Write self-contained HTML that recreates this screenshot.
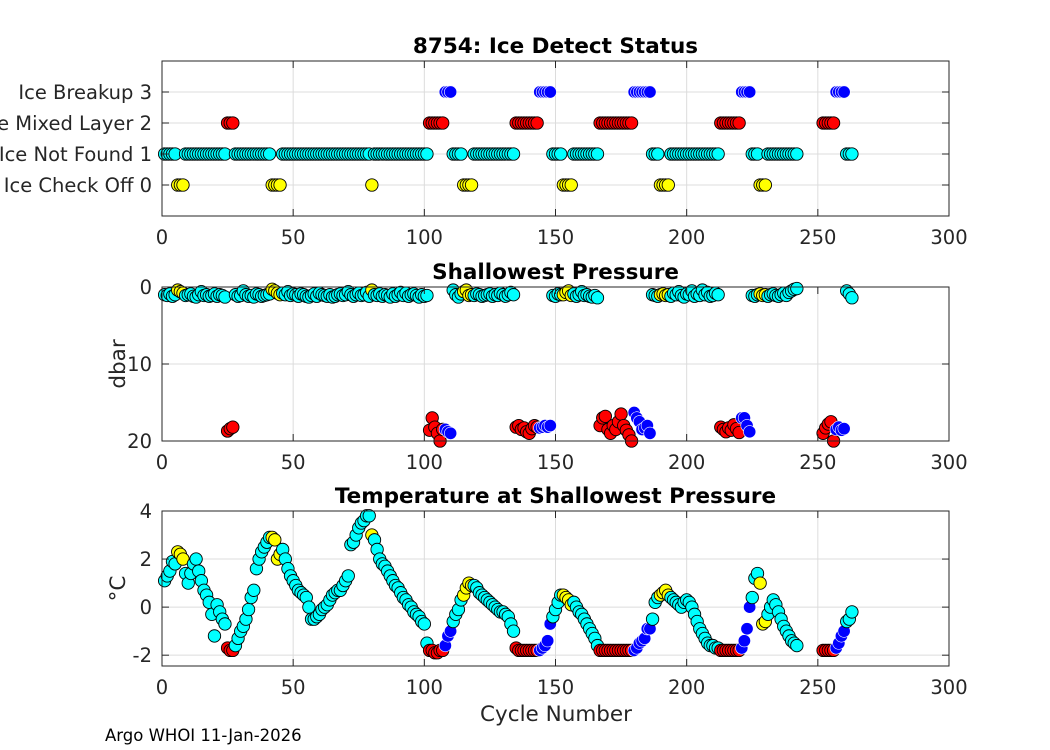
<!DOCTYPE html>
<html><head><meta charset="utf-8"><style>
body{margin:0;background:#fff;}
svg{display:block;font-family:"DejaVu Sans","Liberation Sans",sans-serif;}
</style></head><body>
<svg id="chart" width="1050" height="750" viewBox="0 0 1050 750" xmlns="http://www.w3.org/2000/svg">
<rect width="1050" height="750" fill="#fff"/>
<g id="layer"></g>
<text x="105" y="741" font-size="16.5" fill="#000">Argo WHOI 11-Jan-2026</text>
</svg>
<script>
// per-cycle data, index = cycle-1 (null = no data)
const statusVals=[
1,1,1,1,1, 0,0,0, 1,1,1,1,1,1,1,1,1,1,1,1,1,1,1,1, 2,2,2,
1,1,1,1,1,1,1,1,1,1,1,1,1,1, 0,0,0,0,
1,1,1,1,1,1,1,1,1,1,1,1,1,1,1,1,1,1,1,1,1,1,1,1,1,1,1,1,1,1,1,1,1,1, 0,
1,1,1,1,1,1,1,1,1,1,1,1,1,1,1,1,1,1,1,1,1, 2,2,2,2,2,2, 3,3,3, 1,1,1,1, 0,0,0,0,
1,1,1,1,1,1,1,1,1,1,1,1,1,1,1,1, 2,2,2,2,2,2,2,2,2, 3,3,3,3,3, 1,1,1,1, 0,0,0,0,
1,1,1,1,1,1,1,1,1,1, 2,2,2,2,2,2,2,2,2,2,2,2,2, 3,3,3,3,3,3,3, 1,1,1, 0,0,0,0,
1,1,1,1,1,1,1,1,1,1,1,1,1,1,1,1,1,1,1, 2,2,2,2,2,2,2,2, 3,3,3,3, 1,1,1, 0,0,0,
1,1,1,1,1,1,1,1,1,1,1,1, null,null,null,null,null,null,null,null,null,
2,2,2,2,2, 3,3,3,3, 1,1,1];
const tempVals=[
1.1,1.3,1.5,1.9,1.8, 2.3,2.2,2.0, 1.4,1.0,1.4,1.8,2.0,1.5,1.1,0.7,0.5,0.2,-0.3,-1.2,0.1,-0.2,-0.5,-0.7, -1.7,-1.8,-1.8,
-1.6,-1.3,-1.0,-0.8,-0.5,-0.1,0.4,0.7,1.6,2.0,2.3,2.5,2.7,2.9, 2.9,2.8,2.0,2.2,
2.4,2.0,1.6,1.3,1.1,0.9,0.7,0.6,0.5,0.4,0.0,-0.5,-0.5,-0.4,-0.3,-0.1,0.0,0.1,0.3,0.5,0.6,0.7,0.7,0.9,1.1,1.3,2.6,2.7,3.0,3.3,3.5,3.6,3.8,3.8, 3.0,
2.8,2.4,2.0,1.8,1.7,1.5,1.3,1.1,0.9,0.8,0.6,0.4,0.3,0.1,0.0,-0.2,-0.3,-0.4,-0.6,-0.7,-1.5, -1.8,-1.8,-1.9,-1.9,-1.8,-1.8, -1.6,-1.2,-1.0, -0.6,-0.3,-0.1,0.3, 0.5,0.8,1.0,0.9,
0.9,0.8,0.6,0.5,0.4,0.3,0.2,0.1,0.0,-0.1,-0.2,-0.2,-0.3,-0.4,-0.7,-1.0, -1.7,-1.8,-1.8,-1.8,-1.8,-1.8,-1.8,-1.8,-1.8, -1.8,-1.7,-1.6,-1.4,-0.7, -0.4,-0.1,0.2,0.5, 0.5,0.4,0.3,0.1,
0.2,0.0,-0.2,-0.3,-0.5,-0.7,-0.9,-1.1,-1.3,-1.6, -1.8,-1.8,-1.8,-1.8,-1.8,-1.8,-1.8,-1.8,-1.8,-1.8,-1.8,-1.8,-1.8, -1.8,-1.7,-1.5,-1.4,-1.3,-0.9,-0.9, -0.5,0.2,0.4, 0.5,0.6,0.7,0.5,
0.4,0.3,0.2,0.1,0.0,0.2,0.3,0.2,0.0,-0.3,-0.6,-0.9,-1.1,-1.3,-1.5,-1.6,-1.6,-1.7,-1.7, -1.8,-1.8,-1.8,-1.8,-1.8,-1.8,-1.8,-1.8, -1.7,-1.4,-0.9,0.0, 0.4,1.2,1.4, 1.0,-0.7,-0.6,
-0.3,0.0,0.3,0.1,-0.2,-0.5,-0.8,-1.0,-1.2,-1.4,-1.5,-1.6, null,null,null,null,null,null,null,null,null,
-1.8,-1.8,-1.8,-1.8,-1.8, -1.7,-1.5,-1.2,-1.0, -0.6,-0.5,-0.2];
const presVals=[
1.0,1.1,0.9,1.2,1.0, 0.4,0.6,0.8, 1.1,1.0,0.9,1.2,1.3,1.0,0.6,1.1,1.0,1.2,1.1,0.9,1.2,1.0,1.1,1.3, 18.7,18.4,18.2,
1.0,1.2,1.1,0.5,1.0,1.2,1.1,1.3,0.9,1.0,1.2,1.1,1.0,0.9, 0.3,0.5,0.8,1.0,
0.8,1.0,0.6,1.1,0.9,1.0,1.2,0.9,1.0,1.2,1.3,1.1,0.9,1.2,0.8,1.0,1.1,1.2,1.0,1.3,1.2,1.0,0.9,1.1,1.0,0.6,1.0,1.2,1.0,0.8,1.1,1.0,0.7,1.2, 0.4,
1.0,1.1,0.9,1.2,1.0,1.1,1.3,0.9,1.2,1.0,0.7,1.1,0.8,1.2,1.0,0.9,1.1,1.3,1.0,1.2,1.1, 18.6,17.0,18.2,19.0,20.0,18.5, 18.5,18.8,19.0, 0.4,1.0,1.3,0.9, 0.6,0.4,1.1,1.0,
1.1,0.9,1.0,1.2,1.1,1.0,0.9,1.2,1.0,1.1,0.8,1.0,1.2,1.0,0.7,1.0, 18.2,18.0,18.5,18.3,18.8,19.0,18.4,18.0,18.2, 18.3,18.2,18.0,18.2,18.0,
1.1,1.2,0.9,1.0, 1.0,0.7,0.5,1.1,
0.9,1.2,1.0,0.6,1.1,1.0,1.2,1.3,1.1,1.4, 18.0,17.0,16.8,18.5,19.0,18.0,18.5,17.5,16.5,18.0,18.6,19.2,20.0, 16.3,17.0,17.5,18.5,18.3,18.0,19.0,
1.0,1.1,1.2, 1.0,0.9,1.1,1.0,
1.2,0.8,1.0,0.6,1.1,1.3,0.9,1.0,0.5,1.2,0.9,1.1,0.4,1.0,0.7,1.2,1.1,0.8,1.0, 18.2,18.5,18.8,18.3,18.6,17.9,18.4,18.9, 17.0,17.0,18.0,18.8,
1.1,1.2,1.0, 0.9,1.1,1.0,
1.2,1.0,0.9,1.1,1.2,1.0,0.8,1.1,0.7,0.5,0.3,0.2, null,null,null,null,null,null,null,null,null,
19.0,18.3,17.8,17.5,20.0, 18.5,18.2,18.6,18.4, 0.5,0.9,1.4];
const xTicks=[0,50,100,150,200,250,300];
const p1Ticks=[0,1,2,3];
const p1Labels=["Ice Check Off 0","Ice Not Found 1","Ice Mixed Layer 2","Ice Breakup 3"];
const p2Ticks=[0,10,20];
const p3Ticks=[-2,0,2,4];
const colors={0:"#ffff00",1:"#00ffff",2:"#ff0000",3:"#0000ff"};

const NS="http://www.w3.org/2000/svg";
const layer=document.getElementById('layer');
function mk(tag,attrs,parent){const e=document.createElementNS(NS,tag);for(const k in attrs)e.setAttribute(k,attrs[k]);(parent||layer).appendChild(e);return e;}
const X0=162,X1=949;
function xs(v){return X0+(v-0)/(300-0)*(X1-X0);}
const panels=[
 {name:'ice-status',top:61,bot:216,min:-1,max:4,rev:false,title:'8754: Ice Detect Status',ticks:p1Ticks,labels:p1Labels,val:(i)=>statusVals[i]},
 {name:'shallowest-pressure',top:287,bot:441,min:0,max:20,rev:true,title:'Shallowest Pressure',ticks:p2Ticks,labels:p2Ticks.map(String),val:(i)=>presVals[i],ylab:'dbar'},
 {name:'temperature',top:511,bot:666,min:-2.45,max:4,rev:false,title:'Temperature at Shallowest Pressure',ticks:p3Ticks,labels:p3Ticks.map(String),val:(i)=>tempVals[i],ylab:'°C'}
];
panels.forEach((p,pi)=>{
 const ys=v=>p.rev? p.top+(v-p.min)/(p.max-p.min)*(p.bot-p.top) : p.bot-(v-p.min)/(p.max-p.min)*(p.bot-p.top);
 const g=mk('g',{});
 
 
 xTicks.forEach(t=>{const l=mk('line',{x1:xs(t),x2:xs(t),y1:p.top,y2:p.bot,stroke:'#dcdcdc','stroke-width':1},g);
  });
 p.ticks.forEach(t=>{const l=mk('line',{x1:X0,x2:X1,y1:ys(t),y2:ys(t),stroke:'#dcdcdc','stroke-width':1},g);
  });
 for(let i=0;i<statusVals.length;i++){
  const s=statusVals[i],v=p.val(i);
  if(s===null||v===null)continue;
  const c=mk('circle',{cx:xs(i+1),cy:ys(v),r:6.2,fill:colors[s],stroke:s===3?'#ffffff':'#000','stroke-width':s===3?0.6:0.9},g);
  
  
 }
 const b=mk('rect',{x:X0,y:p.top,width:X1-X0,height:p.bot-p.top,fill:'none',stroke:'#262626','stroke-width':1},g);
 
 xTicks.forEach(t=>{
  mk('line',{x1:xs(t),x2:xs(t),y1:p.bot,y2:p.bot-7,stroke:'#262626'},g);
  mk('line',{x1:xs(t),x2:xs(t),y1:p.top,y2:p.top+7,stroke:'#262626'},g);
  const tx=mk('text',{x:xs(t),y:p.bot+28,'font-size':19.5,fill:'#262626','text-anchor':'middle'},g);tx.textContent=t;
  
 });
 p.ticks.forEach((t,k)=>{
  mk('line',{x1:X0,x2:X0+7,y1:ys(t),y2:ys(t),stroke:'#262626'},g);
  mk('line',{x1:X1,x2:X1-7,y1:ys(t),y2:ys(t),stroke:'#262626'},g);
  const tx=mk('text',{x:152,y:ys(t)+7,'font-size':19.5,fill:'#262626','text-anchor':'end'},g);tx.textContent=p.labels[k];
  
 });
 const ti=mk('text',{x:(X0+X1)/2,y:p.top-8,'font-size':21.5,'font-weight':'bold',fill:'#000','text-anchor':'middle'},g);ti.textContent=p.title;
 
 if(p.ylab){const yc=(p.top+p.bot)/2;const yl=mk('text',{x:125,y:yc,'font-size':21.5,fill:'#262626','text-anchor':'middle',transform:'rotate(-90 125 '+yc+')'},g);yl.textContent=p.ylab;
  }
});
const xl=mk('text',{x:556,y:721,'font-size':21.5,fill:'#262626','text-anchor':'middle'});xl.textContent='Cycle Number';


</script>
</body></html>
